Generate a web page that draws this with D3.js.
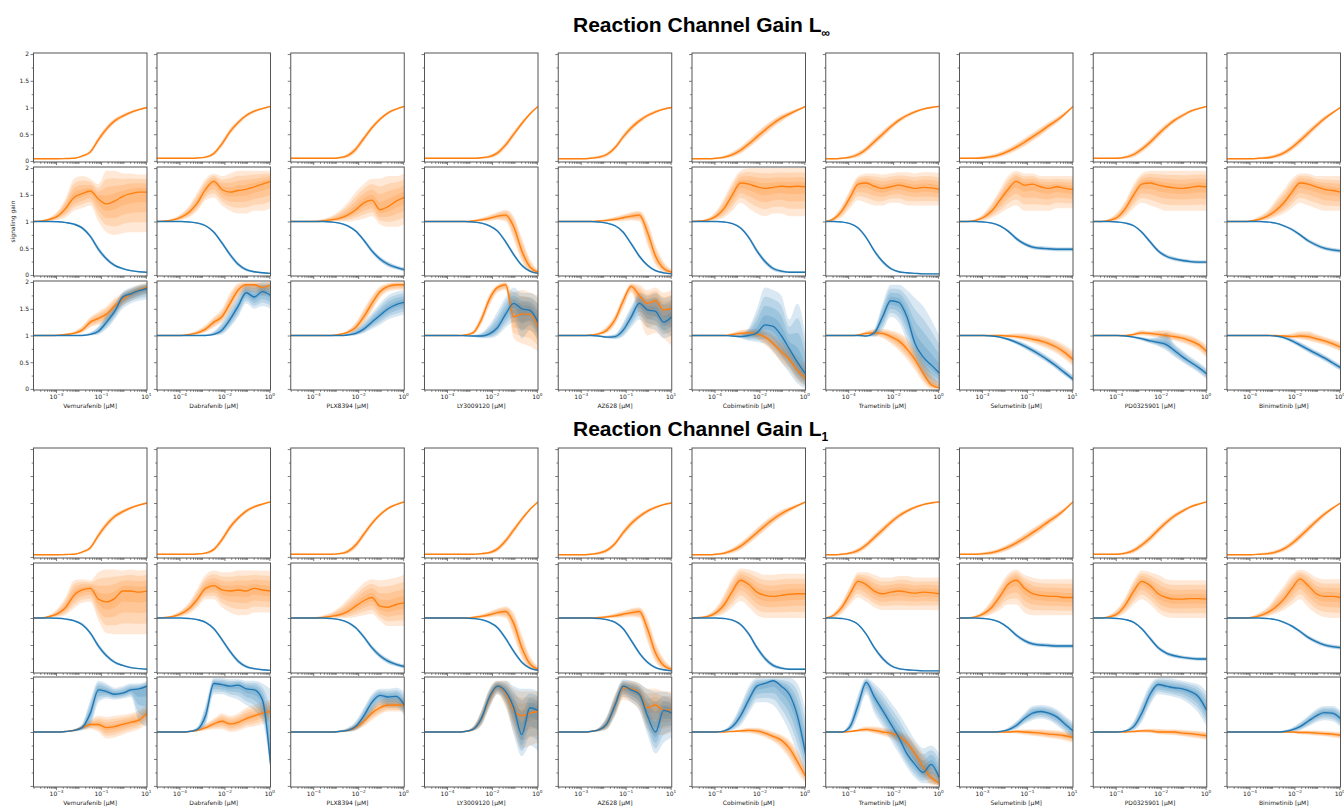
<!DOCTYPE html>
<html>
<head>
<meta charset="utf-8">
<script src="https://cdn.jsdelivr.net/npm/d3@7"></script>
<style>
  body { margin: 0; background: #fff; }
  text { font-family: "DejaVu Sans", sans-serif; }
  .title { font-family: "Liberation Sans", Arial, sans-serif; font-weight: bold; }
</style>
</head>
<body>
<svg id="chart" width="1344" height="808"></svg>
<script>
// Drugs and their highest dose (decade); doses span 5 decades below it
const drugs = ['Vemurafenib', 'Dabrafenib', 'PLX8394', 'LY3009120', 'AZ628',
  'Cobimetinib', 'Trametinib', 'Selumetinib', 'PD0325901', 'Binimetinib'];
const drugTopDecade = [1, 0, 0, 0, 1, 0, 0, 1, 0, 0];
const doseSteps = [0, 0.36, 0.72, 1.08, 1.44, 1.8, 2.16, 2.53, 2.89, 3.25, 3.61, 3.97, 4.33, 4.69, 5.05];
const yTicks = [0, 0.5, 1, 1.5, 2];
const yMinorTicks = [0.25, 0.75, 1.25, 1.75];
const titles = ['Reaction Channel Gain L', 'Reaction Channel Gain L'];
const titleSubs = ['\u221e', '1'];

// Top row (both gains): orange median and spread
const topOrange = [
  [.04,.04,.04,.04,.045,.05,.09,.17,.4,.6,.75,.84,.91,.96,1.0],
  [.05,.05,.05,.05,.05,.055,.07,.14,.32,.55,.72,.85,.93,.98,1.02],
  [.05,.05,.05,.05,.05,.05,.06,.1,.22,.42,.62,.78,.9,.97,1.02],
  [.05,.05,.05,.05,.05,.05,.05,.06,.08,.15,.3,.5,.7,.88,1.02],
  [.04,.04,.04,.04,.05,.07,.12,.25,.45,.62,.75,.85,.92,.97,1.0],
  [.04,.04,.04,.05,.07,.12,.2,.32,.45,.58,.7,.8,.88,.95,1.02],
  [.04,.04,.05,.07,.12,.22,.36,.5,.64,.76,.85,.92,.97,1.0,1.02],
  [.05,.05,.05,.06,.08,.12,.18,.26,.35,.45,.55,.66,.76,.88,1.02],
  [.05,.05,.05,.05,.07,.12,.22,.35,.5,.64,.76,.85,.93,.98,1.02],
  [.04,.04,.04,.04,.05,.06,.09,.15,.25,.38,.52,.66,.79,.9,1.0]
];
const topOrangeW = [
  [.01,.01,.01,.01,.01,.01,.02,.04,.06,.06,.05,.04,.03,.02,.02],
  [.01,.01,.01,.01,.01,.01,.02,.04,.06,.06,.05,.04,.03,.02,.02],
  [.01,.01,.01,.01,.01,.01,.02,.04,.06,.06,.05,.04,.03,.02,.02],
  [.01,.01,.01,.01,.01,.01,.01,.02,.03,.05,.06,.06,.05,.03,.02],
  [.01,.01,.01,.01,.02,.03,.04,.05,.06,.06,.05,.04,.03,.02,.02],
  [.01,.01,.01,.02,.03,.05,.07,.08,.09,.09,.08,.07,.05,.03,.02],
  [.01,.01,.02,.03,.05,.06,.07,.07,.06,.05,.04,.03,.02,.02,.02],
  [.01,.01,.02,.03,.04,.05,.06,.07,.08,.08,.08,.07,.06,.04,.02],
  [.01,.01,.01,.02,.03,.05,.06,.07,.07,.06,.05,.04,.03,.02,.02],
  [.01,.01,.01,.01,.02,.03,.04,.05,.06,.07,.07,.06,.05,.03,.02]
];

// Middle row blue (both gains)
const midBlue = [
  [1,1,1,.995,.98,.95,.88,.72,.48,.3,.18,.12,.08,.06,.05],
  [1,1,1,1,.99,.97,.92,.8,.6,.38,.2,.1,.06,.04,.03],
  [1,1,1,1,1,.99,.97,.92,.82,.65,.45,.3,.2,.14,.1],
  [1,1,1,1,1,1,.99,.97,.92,.82,.62,.38,.18,.07,.03],
  [1,1,1,1,1,.99,.97,.92,.8,.58,.35,.18,.08,.04,.02],
  [1,1,1,1,.99,.96,.88,.7,.45,.25,.12,.07,.05,.05,.05],
  [1,1,.99,.96,.88,.7,.45,.25,.12,.06,.04,.03,.02,.02,.02],
  [1,1,1,.99,.97,.92,.82,.68,.58,.52,.5,.49,.48,.48,.48],
  [1,1,1,.99,.97,.92,.8,.62,.45,.35,.3,.27,.25,.24,.24],
  [1,1,1,1,1,.99,.97,.92,.85,.75,.64,.56,.5,.47,.45]
];
const midBlueW = [
  [0,0,0,.005,.01,.02,.03,.04,.05,.04,.03,.02,.015,.01,.01],
  [0,0,0,0,.01,.015,.02,.03,.04,.045,.04,.03,.02,.015,.01],
  [0,0,0,0,0,.01,.015,.02,.03,.04,.05,.05,.05,.04,.04],
  [0,0,0,0,0,0,.01,.015,.02,.03,.04,.04,.03,.02,.01],
  [0,0,0,0,0,.01,.015,.02,.03,.04,.04,.03,.02,.015,.01],
  [0,0,0,0,.01,.015,.025,.04,.05,.05,.04,.03,.02,.02,.02],
  [0,0,.005,.01,.02,.03,.04,.04,.03,.02,.015,.01,.01,.01,.01],
  [0,0,0,.01,.015,.02,.03,.04,.04,.04,.04,.04,.04,.04,.04],
  [0,0,0,.01,.015,.02,.03,.04,.04,.04,.04,.035,.035,.035,.035],
  [0,0,0,0,0,.01,.015,.02,.03,.035,.04,.04,.04,.04,.04]
];

// L-infinity, middle row orange
const infMidOrange = [
  [1,1.01,1.04,1.1,1.25,1.45,1.52,1.57,1.42,1.33,1.38,1.47,1.52,1.55,1.55],
  [1,1.01,1.03,1.08,1.18,1.35,1.6,1.75,1.6,1.55,1.58,1.6,1.65,1.7,1.75],
  [1,1,1,1,1.01,1.03,1.06,1.12,1.22,1.35,1.4,1.22,1.28,1.38,1.45],
  [1,1,1,1,1,1,1.01,1.03,1.06,1.1,1.12,.9,.45,.15,.05],
  [1,1,1,1,1,1.01,1.02,1.04,1.07,1.1,1.12,.8,.35,.12,.05],
  [1,1.01,1.03,1.1,1.25,1.5,1.72,1.7,1.65,1.62,1.64,1.66,1.65,1.66,1.65],
  [1,1.05,1.2,1.45,1.7,1.72,1.66,1.62,1.65,1.68,1.65,1.62,1.64,1.63,1.6],
  [1,1,1.02,1.08,1.2,1.4,1.6,1.75,1.68,1.7,1.65,1.62,1.65,1.62,1.6],
  [1,1,1.02,1.08,1.25,1.5,1.7,1.72,1.68,1.65,1.63,1.62,1.64,1.66,1.65],
  [1,1,1,1.01,1.04,1.1,1.2,1.35,1.55,1.72,1.7,1.65,1.6,1.58,1.55]
];
const infMidOrangeHi = [
  [1,1.02,1.08,1.2,1.45,1.8,1.85,1.8,1.7,1.95,1.95,1.9,1.9,1.88,1.88],
  [1,1.02,1.06,1.15,1.3,1.55,1.8,1.9,1.85,1.9,1.95,1.95,1.95,1.95,1.95],
  [1,1,1.01,1.02,1.05,1.1,1.2,1.35,1.55,1.7,1.8,1.8,1.85,1.85,1.9],
  [1,1,1,1,1,1.01,1.03,1.07,1.12,1.18,1.22,1.1,.7,.3,.1],
  [1,1,1,1,1.01,1.02,1.05,1.09,1.13,1.18,1.2,1.0,.55,.25,.1],
  [1,1.02,1.07,1.2,1.45,1.75,1.95,2,2,2,2,2,2,2,2],
  [1,1.1,1.3,1.6,1.85,1.9,1.9,1.88,1.9,1.92,1.92,1.9,1.92,1.92,1.9],
  [1,1.01,1.05,1.15,1.35,1.6,1.85,1.95,1.9,1.9,1.85,1.85,1.85,1.85,1.85],
  [1,1.01,1.06,1.18,1.4,1.7,1.9,1.95,1.95,1.95,1.95,1.95,1.95,1.95,1.95],
  [1,1,1.01,1.03,1.1,1.2,1.4,1.6,1.8,1.9,1.9,1.85,1.85,1.85,1.85]
];
const infMidOrangeLo = [
  [1,1,1.01,1.03,1.08,1.2,1.25,1.3,1.0,.8,.75,.78,.8,.8,.8],
  [1,1,1.01,1.03,1.08,1.2,1.4,1.45,1.3,1.2,1.15,1.15,1.2,1.2,1.25],
  [1,1,1,.99,.99,1,1,1,1.02,1.05,1.1,.95,.9,.9,.95],
  [1,1,1,1,1,.99,.99,1,1.01,1.03,1,.65,.25,.05,.01],
  [1,1,1,1,.99,.99,1,1,1.01,1.02,1.0,.55,.18,.05,.01],
  [1,1,1.01,1.03,1.08,1.2,1.35,1.25,1.15,1.1,1.15,1.15,1.1,1.1,1.1],
  [1,1.01,1.08,1.25,1.4,1.35,1.3,1.3,1.35,1.35,1.3,1.3,1.3,1.3,1.3],
  [1,1,1,1.02,1.07,1.15,1.25,1.3,1.2,1.2,1.2,1.2,1.25,1.25,1.25],
  [1,1,1,1.02,1.1,1.25,1.35,1.3,1.25,1.2,1.2,1.2,1.2,1.2,1.2],
  [1,1,1,1,1.01,1.03,1.08,1.15,1.25,1.35,1.3,1.25,1.2,1.2,1.2]
];

// L1, middle row orange
const oneMidOrange = [
  [1,1,1.03,1.08,1.2,1.42,1.52,1.55,1.35,1.3,1.36,1.5,1.5,1.48,1.5],
  [1,1.01,1.03,1.08,1.18,1.35,1.55,1.6,1.52,1.5,1.52,1.5,1.55,1.52,1.5],
  [1,1,1,1,1.01,1.03,1.06,1.12,1.22,1.32,1.38,1.22,1.2,1.25,1.28],
  [1,1,1,1,1,1,1.01,1.03,1.06,1.1,1.12,.9,.45,.15,.05],
  [1,1,1,1,1,1.01,1.02,1.04,1.07,1.1,1.12,.8,.35,.12,.05],
  [1,1.01,1.03,1.1,1.25,1.5,1.7,1.62,1.48,1.42,1.4,1.42,1.44,1.45,1.45],
  [1,1.05,1.2,1.45,1.68,1.62,1.5,1.45,1.48,1.5,1.48,1.46,1.48,1.47,1.45],
  [1,1,1.02,1.08,1.2,1.4,1.62,1.7,1.55,1.45,1.42,1.4,1.4,1.38,1.38],
  [1,1,1.02,1.08,1.25,1.5,1.68,1.6,1.45,1.38,1.35,1.35,1.36,1.36,1.35],
  [1,1,1,1.01,1.04,1.1,1.2,1.35,1.55,1.72,1.6,1.45,1.4,1.4,1.38]
];
const oneMidOrangeHi = [
  [1,1.01,1.06,1.18,1.4,1.7,1.72,1.7,1.85,1.9,1.9,1.88,1.9,1.88,1.9],
  [1,1.02,1.06,1.15,1.3,1.55,1.8,1.88,1.85,1.85,1.88,1.88,1.88,1.88,1.88],
  [1,1,1.01,1.02,1.05,1.1,1.2,1.35,1.5,1.65,1.72,1.7,1.72,1.75,1.8],
  [1,1,1,1,1,1.01,1.03,1.07,1.12,1.18,1.22,1.1,.7,.3,.1],
  [1,1,1,1,1.01,1.02,1.05,1.09,1.13,1.18,1.2,1.0,.55,.25,.1],
  [1,1.02,1.07,1.2,1.45,1.75,1.92,1.9,1.85,1.8,1.8,1.82,1.82,1.82,1.82],
  [1,1.1,1.3,1.6,1.85,1.85,1.8,1.75,1.75,1.78,1.78,1.75,1.75,1.75,1.75],
  [1,1.01,1.05,1.15,1.35,1.6,1.82,1.9,1.8,1.75,1.72,1.72,1.72,1.72,1.72],
  [1,1.01,1.06,1.18,1.4,1.7,1.88,1.85,1.8,1.72,1.7,1.7,1.7,1.7,1.7],
  [1,1,1.01,1.03,1.1,1.2,1.4,1.6,1.8,1.9,1.85,1.75,1.72,1.72,1.72]
];
const oneMidOrangeLo = [
  [1,1,1.01,1.02,1.06,1.18,1.28,1.3,.95,.72,.7,.7,.7,.7,.7],
  [1,1,1.01,1.03,1.08,1.2,1.35,1.35,1.2,1.1,1.05,1.05,1.1,1.1,1.1],
  [1,1,1,.99,.99,1,1,1,1.02,1.05,1.08,.95,.85,.85,.85],
  [1,1,1,1,1,.99,.99,1,1.01,1.03,1,.65,.25,.05,.01],
  [1,1,1,1,.99,.99,1,1,1.01,1.02,1.0,.55,.18,.05,.01],
  [1,1,1.01,1.03,1.08,1.2,1.32,1.2,1.05,1,1,1,1,1,1],
  [1,1.01,1.08,1.25,1.38,1.3,1.2,1.15,1.15,1.15,1.15,1.15,1.15,1.15,1.15],
  [1,1,1,1.02,1.07,1.15,1.25,1.25,1.1,1.05,1.05,1.05,1.05,1.05,1.05],
  [1,1,1,1.02,1.1,1.25,1.35,1.25,1.1,1.02,1,1,1,1,1],
  [1,1,1,1,1.01,1.03,1.08,1.15,1.25,1.35,1.2,1.08,1.02,1,1]
];

// L-infinity, bottom row
const infBotOrange = [
  [1,1,1,1.005,1.02,1.04,1.1,1.25,1.32,1.4,1.55,1.68,1.78,1.85,1.9],
  [1,1,1,1,1.02,1.05,1.12,1.25,1.35,1.6,1.85,1.95,1.95,1.9,1.95],
  [1,1,1,1,1,1,1.02,1.06,1.15,1.35,1.6,1.82,1.92,1.95,1.95],
  [1,1,1,1,1,1.01,1.05,1.3,1.68,1.9,1.95,1.35,1.4,1.4,1.15],
  [1,1,1,1,1.01,1.03,1.1,1.3,1.65,1.92,1.75,1.6,1.65,1.48,1.5],
  [1,1,1,1,1,1.02,1.04,1.05,1.03,.97,.85,.7,.55,.35,.2],
  [1,1,1,1,1.01,1.04,1.05,1.04,.98,.9,.75,.55,.3,.08,.02],
  [1,1,1,1,1,1,.99,.98,.96,.93,.9,.85,.78,.68,.55],
  [1,1,1,1,1,1.02,1.05,1.04,1.02,1,.98,.95,.9,.83,.7],
  [1,1,1,1,1,1,1,.99,.98,.99,.98,.94,.9,.85,.78]
];
const infBotOrangeHi = [
  [1,1,1,1.01,1.04,1.08,1.18,1.35,1.45,1.55,1.7,1.8,1.88,1.95,1.98],
  [1,1,1,1.01,1.04,1.1,1.2,1.35,1.5,1.8,1.98,2,2,2,2],
  [1,1,1,1,1,1.01,1.04,1.1,1.25,1.5,1.75,1.92,1.98,2,2],
  [1,1,1,1,1,1.02,1.1,1.4,1.78,1.95,2,1.8,1.85,1.8,1.75],
  [1,1,1,1,1.02,1.06,1.18,1.4,1.75,1.98,1.95,1.85,1.9,1.8,1.85],
  [1,1,1,1,1.01,1.05,1.1,1.12,1.12,1.1,1.02,.9,.78,.6,.45],
  [1,1,1,1,1.02,1.08,1.12,1.12,1.1,1.05,.95,.78,.55,.3,.12],
  [1,1,1,1,1.01,1.02,1.03,1.04,1.04,1.02,1,.96,.9,.82,.72],
  [1,1,1,1,1.01,1.05,1.1,1.08,1.1,1.1,1.06,1.03,1,.93,.82],
  [1,1,1,1,1,1,1.01,1.02,1.04,1.08,1.08,1.03,.98,.93,.88]
];
const infBotOrangeLo = [
  [1,1,1,1,1.01,1.02,1.05,1.15,1.2,1.25,1.4,1.55,1.65,1.72,1.78],
  [1,1,1,1,1.01,1.02,1.06,1.15,1.25,1.45,1.7,1.8,1.8,1.75,1.8],
  [1,1,1,1,1,1,1.01,1.03,1.08,1.22,1.45,1.7,1.82,1.85,1.85],
  [1,1,1,1,1,1,1.02,1.2,1.55,1.8,1.85,.95,.85,.8,.7],
  [1,1,1,1,1,1.01,1.04,1.2,1.5,1.8,1.35,1,1.05,.95,.8],
  [1,1,1,1,.99,.99,.99,.98,.93,.82,.68,.5,.35,.15,.05],
  [1,1,1,1,1,1,.99,.95,.85,.72,.55,.35,.12,0,0],
  [1,1,1,1,.99,.98,.96,.94,.9,.86,.8,.74,.66,.55,.42],
  [1,1,1,1,.99,.99,1,.98,.96,.93,.9,.86,.8,.72,.58],
  [1,1,1,1,1,1,.99,.97,.95,.93,.9,.86,.82,.76,.7]
];
const infBotBlue = [
  [1,1,1,1,1,1,1,1.02,1.08,1.25,1.45,1.72,1.78,1.84,1.88],
  [1,1,1,1,1,1,1,1.02,1.1,1.3,1.55,1.8,1.72,1.82,1.75],
  [1,1,1,1,1,1,1,1.01,1.04,1.12,1.25,1.38,1.5,1.58,1.62],
  [1,1,1,1,1,.995,.99,.99,1.03,1.15,1.4,1.6,1.5,1.47,1.25],
  [1,1,1,1,1,.99,.97,.98,1.1,1.35,1.6,1.48,1.45,1.25,1.35],
  [1,1,1,1,1,.99,.98,1,1.05,1.2,1.17,1,.75,.5,.28],
  [1,1,1,1,1,.99,1.05,1.35,1.65,1.62,1.35,.85,.6,.45,.3],
  [1,1,1,1,.99,.97,.93,.87,.8,.72,.63,.53,.42,.3,.18],
  [1,1,1,1,.99,.97,.94,.9,.87,.83,.72,.6,.5,.4,.28],
  [1,1,1,1,1,1,.99,.96,.9,.82,.74,.66,.58,.49,.4]
];
const infBotBlueHi = [
  [1,1,1,1,1,1.01,1.02,1.06,1.18,1.4,1.6,1.82,1.9,1.95,1.98],
  [1,1,1,1,1,1.01,1.02,1.08,1.25,1.5,1.75,1.95,1.95,2,2],
  [1,1,1,1,1,1,1.01,1.04,1.12,1.25,1.42,1.6,1.75,1.82,1.85],
  [1,1,1,1,1,1,1.01,1.05,1.2,1.45,1.72,1.9,1.8,1.8,1.7],
  [1,1,1,1,1,1,1,1.03,1.25,1.55,1.8,1.75,1.8,1.7,1.75],
  [1,1,1,1,1,1,1.03,1.15,1.5,1.9,1.85,1.75,1.3,1.6,1.0],
  [1,1,1,1,1,1,1.12,1.6,1.95,1.95,1.85,1.7,1.55,1.3,1.0],
  [1,1,1,1,1,.99,.96,.92,.86,.78,.7,.6,.5,.38,.26],
  [1,1,1,1,1,.99,.97,.95,.98,1.05,.85,.72,.6,.5,.38],
  [1,1,1,1,1,1,1,.99,.95,.88,.8,.72,.64,.55,.46]
];
const infBotBlueLo = [
  [1,1,1,1,1,.99,.99,1,1.02,1.12,1.3,1.5,1.6,1.65,1.68],
  [1,1,1,1,1,.99,.99,1,1.02,1.15,1.35,1.6,1.5,1.55,1.5],
  [1,1,1,1,1,.99,.99,.99,1,1.04,1.12,1.2,1.3,1.35,1.4],
  [1,1,1,1,1,.99,.97,.95,.95,1,1.15,1.25,.95,1.1,.9],
  [1,1,1,1,1,.98,.95,.93,.98,1.15,1.3,1.15,1.1,.95,1],
  [1,1,1,1,1,.98,.95,.9,.88,.85,.7,.5,.3,.1,0],
  [1,1,1,1,1,.98,.97,1.1,1.35,1.25,.9,.55,.25,.1,.05],
  [1,1,1,1,.98,.95,.9,.83,.75,.66,.57,.47,.36,.24,.13],
  [1,1,1,1,.98,.95,.9,.85,.8,.72,.6,.5,.4,.3,.18],
  [1,1,1,1,1,.99,.98,.93,.86,.77,.68,.6,.52,.43,.34]
];

// L1, bottom row
const oneBotOrange = [
  [1,1,1,1,1.01,1.03,1.08,1.14,1.14,1.08,1.1,1.14,1.18,1.22,1.35],
  [1,1,1,1,1.01,1.03,1.08,1.15,1.2,1.15,1.18,1.25,1.3,1.35,1.38],
  [1,1,1,1,1,1,1.01,1.03,1.08,1.2,1.35,1.45,1.5,1.5,1.5],
  [1,1,1,1,1,1.01,1.05,1.25,1.62,1.85,1.72,1.4,1.3,1.35,1.38],
  [1,1,1,1,1.01,1.04,1.15,1.5,1.82,1.8,1.72,1.45,1.5,1.4,1.42],
  [1,1,1,1,1,1.01,1.02,1.03,1.02,.98,.92,.85,.7,.45,.18],
  [1,1,1,1.01,1.03,1.05,1.03,1,.98,.92,.8,.6,.35,.15,.05],
  [1,1,1,1,1,1,1,1.01,1,.99,.98,.96,.95,.93,.9],
  [1,1,1,1,1,1.01,1.02,1.02,1,1,1,.98,.97,.95,.93],
  [1,1,1,1,1,1,1,1,1,.99,.99,.98,.97,.96,.94]
];
const oneBotOrangeHi = [
  [1,1,1,1,1.02,1.05,1.12,1.22,1.3,1.28,1.3,1.32,1.35,1.4,1.5],
  [1,1,1,1,1.02,1.06,1.15,1.25,1.35,1.3,1.35,1.45,1.5,1.55,1.6],
  [1,1,1,1,1,1.01,1.02,1.06,1.15,1.3,1.48,1.6,1.65,1.65,1.62],
  [1,1,1,1,1,1.02,1.1,1.4,1.8,1.95,1.95,1.8,1.75,1.75,1.75],
  [1,1,1,1,1.02,1.08,1.28,1.7,1.95,1.95,1.9,1.8,1.8,1.75,1.75],
  [1,1,1,1,1,1.02,1.05,1.08,1.08,1.05,1,.95,.85,.65,.35],
  [1,1,1,1.02,1.06,1.1,1.1,1.08,1.05,1.02,.95,.8,.6,.4,.25],
  [1,1,1,1,1,1.01,1.02,1.04,1.05,1.05,1.05,1.04,1.03,1.02,1],
  [1,1,1,1,1.01,1.03,1.05,1.06,1.06,1.05,1.05,1.04,1.03,1.02,1],
  [1,1,1,1,1,1,1,1.01,1.02,1.03,1.03,1.03,1.02,1.01,1]
];
const oneBotOrangeLo = [
  [1,1,1,1,1,1.01,1.04,1.05,1,.88,.9,.95,1,1.05,1.15],
  [1,1,1,1,1,1.01,1.03,1.05,1.05,1,1.02,1.08,1.1,1.15,1.2],
  [1,1,1,1,1,1,1,1.01,1.03,1.1,1.22,1.32,1.38,1.38,1.38],
  [1,1,1,1,1,1,1.02,1.12,1.45,1.7,1.45,1,.7,.75,.8],
  [1,1,1,1,1,1.01,1.05,1.3,1.6,1.55,1.4,1.05,.95,.95,1],
  [1,1,1,1,1,1,.99,.98,.95,.9,.82,.7,.5,.25,.05],
  [1,1,1,1,1,1,.97,.93,.88,.8,.65,.42,.18,.02,0],
  [1,1,1,1,1,.99,.98,.97,.95,.93,.91,.89,.87,.84,.8],
  [1,1,1,1,.99,.99,.99,.98,.96,.95,.94,.92,.9,.88,.85],
  [1,1,1,1,1,1,1,.99,.98,.96,.95,.93,.92,.9,.88]
];
const oneBotBlue = [
  [1,1,1,1,1.01,1.03,1.08,1.35,1.78,1.75,1.7,1.72,1.78,1.8,1.85],
  [1,1,1,1,1.01,1.05,1.3,1.9,1.88,1.85,1.87,1.8,1.78,1.6,.4],
  [1,1,1,1,1,1,1.01,1.03,1.1,1.3,1.55,1.68,1.65,1.66,1.5],
  [1,1,1,1,1,1.01,1.05,1.25,1.65,1.85,1.75,1.45,.95,1.45,1.4],
  [1,1,1,1,1.01,1.04,1.15,1.5,1.85,1.78,1.7,1.3,1,1.4,1.35],
  [1,1,1,1,1.02,1.1,1.3,1.6,1.85,1.9,1.95,1.85,1.7,1.3,.6],
  [1,1,1,1.1,1.5,1.92,1.65,1.4,1.15,.9,.6,.4,.25,.4,.15],
  [1,1,1,1,1,1.01,1.04,1.12,1.25,1.35,1.38,1.35,1.28,1.15,1.02],
  [1,1,1,1,1.02,1.1,1.35,1.7,1.88,1.85,1.82,1.8,1.75,1.65,1.4],
  [1,1,1,1,1,1,1,1.01,1.04,1.1,1.2,1.3,1.36,1.35,1.25]
];
const oneBotBlueHi = [
  [1,1,1,1,1.02,1.05,1.15,1.6,1.95,1.9,1.82,1.85,1.9,1.9,1.95],
  [1,1,1,1,1.02,1.1,1.5,2,2,1.98,1.98,1.95,1.95,1.9,1.8],
  [1,1,1,1,1,1.01,1.03,1.08,1.2,1.45,1.7,1.8,1.8,1.82,1.75],
  [1,1,1,1,1,1.02,1.1,1.4,1.8,1.95,1.95,1.85,1.8,1.8,1.75],
  [1,1,1,1,1.02,1.08,1.3,1.7,1.98,1.95,1.9,1.8,1.75,1.75,1.7],
  [1,1,1,1,1.04,1.2,1.5,1.85,2,2,2,2,2,1.9,1.4],
  [1,1,1.01,1.2,1.7,2,1.9,1.75,1.55,1.35,1.1,.85,.7,.75,.6],
  [1,1,1,1,1,1.02,1.08,1.2,1.35,1.48,1.5,1.48,1.42,1.3,1.18],
  [1,1,1,1,1.04,1.2,1.55,1.88,2,2,1.98,1.95,1.92,1.88,1.75],
  [1,1,1,1,1,1,1.01,1.03,1.08,1.18,1.3,1.42,1.48,1.48,1.4]
];
const oneBotBlueLo = [
  [1,1,1,1,1,1.01,1.03,1.1,1.55,1.62,1.6,1.62,1.65,1.2,1.1],
  [1,1,1,1,1,1.01,1.12,1.7,1.7,1.65,1.6,1.5,1.4,1.2,.3],
  [1,1,1,1,1,.99,1,1,1.03,1.15,1.35,1.5,1.45,1.45,1.3],
  [1,1,1,1,1,1,1.02,1.12,1.45,1.7,1.5,.95,.55,.75,.65],
  [1,1,1,1,1,1.01,1.05,1.3,1.65,1.55,1.4,.95,.6,.8,.9],
  [1,1,1,1,1,1.03,1.12,1.35,1.55,1.55,1.5,1.3,1,.6,.2],
  [1,1,1,1.02,1.3,1.7,1.35,1.1,.85,.6,.35,.15,.05,.05,0],
  [1,1,1,1,1,1,1.01,1.05,1.15,1.22,1.25,1.22,1.12,1,.85],
  [1,1,1,1,1,1.03,1.18,1.5,1.7,1.68,1.65,1.6,1.5,1.35,1.1],
  [1,1,1,1,1,1,.99,.99,1,1.03,1.1,1.18,1.22,1.2,1.1]
];

// Layout
const W = 1344, H = 808;
const colLeft = [33.5, 157, 290.75, 424.5, 558.25, 692, 825.75, 959.5, 1093.25, 1227];
const panelW = 113.5;
const groupTops = [[53, 167, 281], [448, 563, 677]];
const groupH = [109, 110];
const titleBase = [32, 436];
const ORANGE = '#ff7f0e', BLUE = '#1f77b4';
const bandLevels = [1, 0.75, 0.5, 0.25];

// Series definitions per group and row
function band(m, hi, lo) { return { m: m, hi: hi, lo: lo }; }
function bandW(m, w) { return { m: m, hi: m.map((v, i) => v + w[i]), lo: m.map((v, i) => v - w[i]) }; }
const groupRows = [
  [
    ci => [[ORANGE, bandW(topOrange[ci], topOrangeW[ci])]],
    ci => [[ORANGE, band(infMidOrange[ci], infMidOrangeHi[ci], infMidOrangeLo[ci])], [BLUE, bandW(midBlue[ci], midBlueW[ci])]],
    ci => [[ORANGE, band(infBotOrange[ci], infBotOrangeHi[ci], infBotOrangeLo[ci])], [BLUE, band(infBotBlue[ci], infBotBlueHi[ci], infBotBlueLo[ci])]]
  ],
  [
    ci => [[ORANGE, bandW(topOrange[ci], topOrangeW[ci])]],
    ci => [[ORANGE, band(oneMidOrange[ci], oneMidOrangeHi[ci], oneMidOrangeLo[ci])], [BLUE, bandW(midBlue[ci], midBlueW[ci])]],
    ci => [[ORANGE, band(oneBotOrange[ci], oneBotOrangeHi[ci], oneBotOrangeLo[ci])], [BLUE, band(oneBotBlue[ci], oneBotBlueHi[ci], oneBotBlueLo[ci])]]
  ]
];

const svg = d3.select('#chart');
svg.append('rect').attr('width', W).attr('height', H).attr('fill', '#fff');
const defs = svg.append('defs');

// Titles
titles.forEach(function (t, gi) {
  const tt = svg.append('text')
    .attr('class', 'title')
    .attr('x', 573)
    .attr('y', titleBase[gi])
    .attr('font-size', '21px')
    .attr('fill', '#000');
  tt.append('tspan').text(t);
  tt.append('tspan').attr('dy', 5).attr('font-size', '12px').text(titleSubs[gi]);
});

function supLabel(sel, expo) {
  sel.text(null);
  sel.append('tspan').text('10');
  sel.append('tspan').attr('dy', '-0.55em').attr('font-size', '4.2px')
    .text(expo < 0 ? '\u2212' + (-expo) : String(expo));
}

for (let gi = 0; gi < 2; gi++) {
  for (let ri = 0; ri < 3; ri++) {
    for (let ci = 0; ci < 10; ci++) {
      const left = colLeft[ci];
      const top = groupTops[gi][ri];
      const h = groupH[gi];
      const topDec = drugTopDecade[ci];
      const doses = doseSteps.map(s => Math.pow(10, topDec - 5 + s));

      const x = d3.scaleLog()
        .domain([doses[0], doses[doses.length - 1]])
        .range([left, left + panelW]);
      const y = d3.scaleLinear()
        .domain([-0.02, 2.02])
        .range([top + h, top]);

      const cid = 'clip' + gi + '_' + ri + '_' + ci;
      defs.append('clipPath').attr('id', cid)
        .append('rect').attr('x', left).attr('y', top).attr('width', panelW).attr('height', h);

      const g = svg.append('g');
      const plot = g.append('g').attr('clip-path', 'url(#' + cid + ')');

      const series = groupRows[gi][ri](ci);

      // Quantile bands
      series.forEach(function (s) {
        const col = s[0], d = s[1];
        bandLevels.forEach(function (f) {
          const area = d3.area()
            .x((v, i) => x(doses[i]))
            .y0((v, i) => y(d.m[i] - f * (d.m[i] - d.lo[i])))
            .y1((v, i) => y(d.m[i] + f * (d.hi[i] - d.m[i])))
            .curve(d3.curveMonotoneX);
          plot.append('path')
            .datum(d.m)
            .attr('d', area)
            .attr('fill', col)
            .attr('fill-opacity', 0.17)
            .attr('stroke', 'none');
        });
      });

      // Median lines
      series.forEach(function (s) {
        const col = s[0], d = s[1];
        const line = d3.line()
          .x((v, i) => x(doses[i]))
          .y(v => y(v))
          .curve(d3.curveMonotoneX);
        plot.append('path')
          .datum(d.m)
          .attr('d', line)
          .attr('fill', 'none')
          .attr('stroke', col)
          .attr('stroke-width', 1.35);
      });

      // Y axis
      const yAxis = d3.axisLeft(y).tickValues(yTicks).tickSize(3)
        .tickPadding(1.5)
        .tickFormat(gi === 0 && ci === 0 ? d3.format('') : () => '');
      const ya = g.append('g').attr('transform', 'translate(' + left + ',0)').call(yAxis);
      ya.select('.domain').remove();
      const yMinor = d3.axisLeft(y).tickValues(yMinorTicks).tickSize(1.8).tickFormat(() => '');
      const ym = g.append('g').attr('transform', 'translate(' + left + ',0)').call(yMinor);
      ym.select('.domain').remove();

      // X axis
      const majors = [topDec - 4, topDec - 2, topDec].map(e => Math.pow(10, e));
      const minors = [];
      for (let e = topDec - 5; e <= topDec; e++) {
        for (let k = 1; k <= 9; k++) {
          const v = k * Math.pow(10, e);
          const isMajor = (k === 1 && (topDec - e) % 2 === 0 && e >= topDec - 4);
          if (v >= doses[0] && v <= doses[doses.length - 1] && !isMajor) minors.push(v);
        }
      }
      const showX = ri === 2;
      const xAxis = d3.axisBottom(x).tickValues(majors).tickSize(3).tickPadding(1.5)
        .tickFormat(() => '');
      const xa = g.append('g').attr('transform', 'translate(0,' + (top + h) + ')').call(xAxis);
      xa.select('.domain').remove();
      if (showX) {
        xa.selectAll('.tick text').each(function (d) {
          supLabel(d3.select(this), Math.round(Math.log10(d)));
        });
      }
      const xMinor = d3.axisBottom(x).tickValues(minors).tickSize(1.8).tickFormat(() => '');
      const xm = g.append('g').attr('transform', 'translate(0,' + (top + h) + ')').call(xMinor);
      xm.select('.domain').remove();

      g.selectAll('.tick line').attr('stroke', '#444').attr('stroke-width', 0.7);
      g.selectAll('.tick text').attr('font-size', '6px').attr('fill', '#222')
        .attr('font-family', '"DejaVu Sans", sans-serif');

      // Frame
      g.append('rect')
        .attr('x', left).attr('y', top)
        .attr('width', panelW).attr('height', h)
        .attr('fill', 'none')
        .attr('stroke', '#555')
        .attr('stroke-width', 1);

      // X label
      if (showX) {
        g.append('text')
          .attr('x', left + panelW / 2)
          .attr('y', top + h + 18)
          .attr('text-anchor', 'middle')
          .attr('font-size', '6px')
          .attr('fill', '#222')
          .text(drugs[ci] + ' [\u03bcM]');
      }
    }
  }
}

// Y label
svg.append('text')
  .attr('transform', 'translate(15,' + (groupTops[0][1] + groupH[0] / 2) + ') rotate(-90)')
  .attr('text-anchor', 'middle')
  .attr('font-size', '6px')
  .attr('fill', '#222')
  .text('signaling gain');
</script>
</body>
</html>
